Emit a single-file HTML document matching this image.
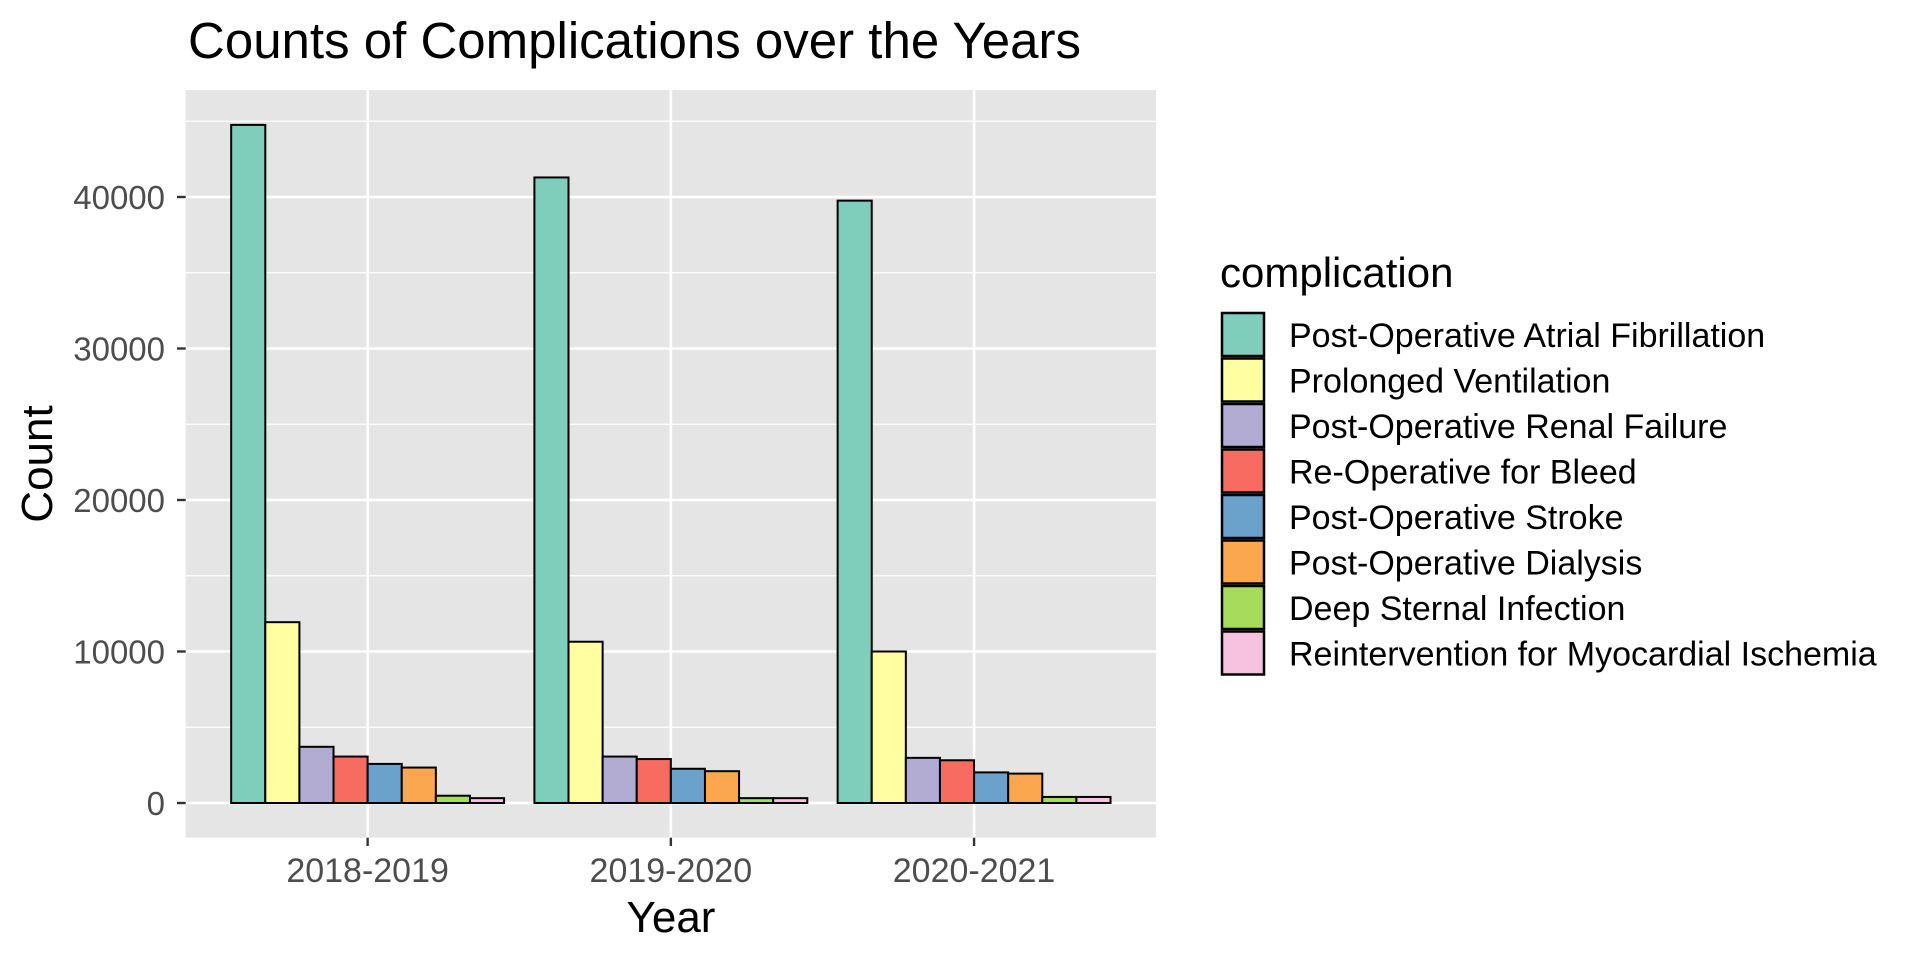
<!DOCTYPE html>
<html><head><meta charset="utf-8"><style>
body{margin:0;background:#fff;}
svg{display:block;font-family:"Liberation Sans",Arial,sans-serif;}
</style></head><body>
<svg id="chart" width="1920" height="960">
<text x="188" y="58" font-size="51" fill="#000">Counts of Complications over the Years</text>
<rect x="185.7" y="90" width="970.3" height="747.7" fill="#e5e5e5"/>
<g id="grid"></g><g id="bars"></g><g id="axes"></g><g id="legend"></g>
<text transform="translate(52,464) rotate(-90)" text-anchor="middle" font-size="44" fill="#000">Count</text>
<text x="671" y="932" text-anchor="middle" font-size="44" fill="#000">Year</text>
<text x="1220" y="287" font-size="42" fill="#000">complication</text>
</svg>
<script>
const years = ["2018-2019","2019-2020","2020-2021"];
const complications = ["Post-Operative Atrial Fibrillation","Prolonged Ventilation","Post-Operative Renal Failure","Re-Operative for Bleed","Post-Operative Stroke","Post-Operative Dialysis","Deep Sternal Infection","Reintervention for Myocardial Ischemia"];
const counts2018 = [44760,11935,3710,3065,2580,2340,480,320];
const counts2019 = [41290,10645,3065,2900,2260,2100,320,320];
const counts2020 = [39760,10000,2980,2820,2020,1940,400,400];
const yTicks = [0,10000,20000,30000,40000];
const colors = ["#7fcdbb","#ffffa1","#b2abd2","#f76b60","#6aa2cb","#fba74f","#a6db5c","#f7c2e0"];

const series = [counts2018,counts2019,counts2020];
const NS="http://www.w3.org/2000/svg";
const px0=185.7, px1=1156, py0=90, zeroY=803, perUnit=0.01515;
const unit=(px1-px0)/3.2;
function yScale(v){return zeroY - v*perUnit;}
function xCenter(i){return px0 + (i+0.6)*unit;}
function mk(tag,attrs,parent){const e=document.createElementNS(NS,tag);for(const k in attrs)e.setAttribute(k,attrs[k]);parent.appendChild(e);return e;}
const grid=document.getElementById('grid'), bars=document.getElementById('bars'), axes=document.getElementById('axes'), legend=document.getElementById('legend');
for(let i=0;i<yTicks.length;i++){
  const mv=yTicks[i]+5000; const y=yScale(mv);
  if(y>py0){const l=mk('line',{x1:px0,x2:px1,y1:y,y2:y,stroke:'#fff','stroke-width':1.3},grid);
  
  }
}
yTicks.forEach(v=>{
  const y=yScale(v);
  const l=mk('line',{x1:px0,x2:px1,y1:y,y2:y,stroke:'#fff','stroke-width':2.6},grid);
  
  
  const t=mk('line',{x1:177,x2:185.7,y1:y,y2:y,stroke:'#333','stroke-width':2.4},axes);
  
  
  const tx=mk('text',{x:165,y:y+12,'text-anchor':'end','font-size':33,fill:'#4d4d4d'},axes);
  tx.textContent=v;
  
  
});
years.forEach((yr,i)=>{
  const x=xCenter(i);
  const l=mk('line',{x1:x,x2:x,y1:py0,y2:837.7,stroke:'#fff','stroke-width':2.6},grid);
  
  
  const t=mk('line',{x1:x,x2:x,y1:837.7,y2:846,stroke:'#333','stroke-width':2.4},axes);
  
  
  const tx=mk('text',{x:x,y:882,'text-anchor':'middle','font-size':34,fill:'#4d4d4d'},axes);
  tx.textContent=yr;
  
  
  const bw=unit*0.9/complications.length;
  const left=x-unit*0.45;
  series[i].forEach((v,j)=>{
    const r=mk('rect',{x:left+j*bw,y:yScale(v),width:bw,height:zeroY-yScale(v),fill:colors[j],stroke:'#000','stroke-width':2},bars);
    
    
  });
});
complications.forEach((c,j)=>{
  const y=312+j*45.5;
  const r=mk('rect',{x:1222,y:y+1,width:42,height:43,fill:colors[j],stroke:'#000','stroke-width':2.5},legend);
  
  
  const t=mk('text',{x:1289,y:y+35,'font-size':34,fill:'#000'},legend);
  t.textContent=c;
  
  
});
</script>
</body></html>
